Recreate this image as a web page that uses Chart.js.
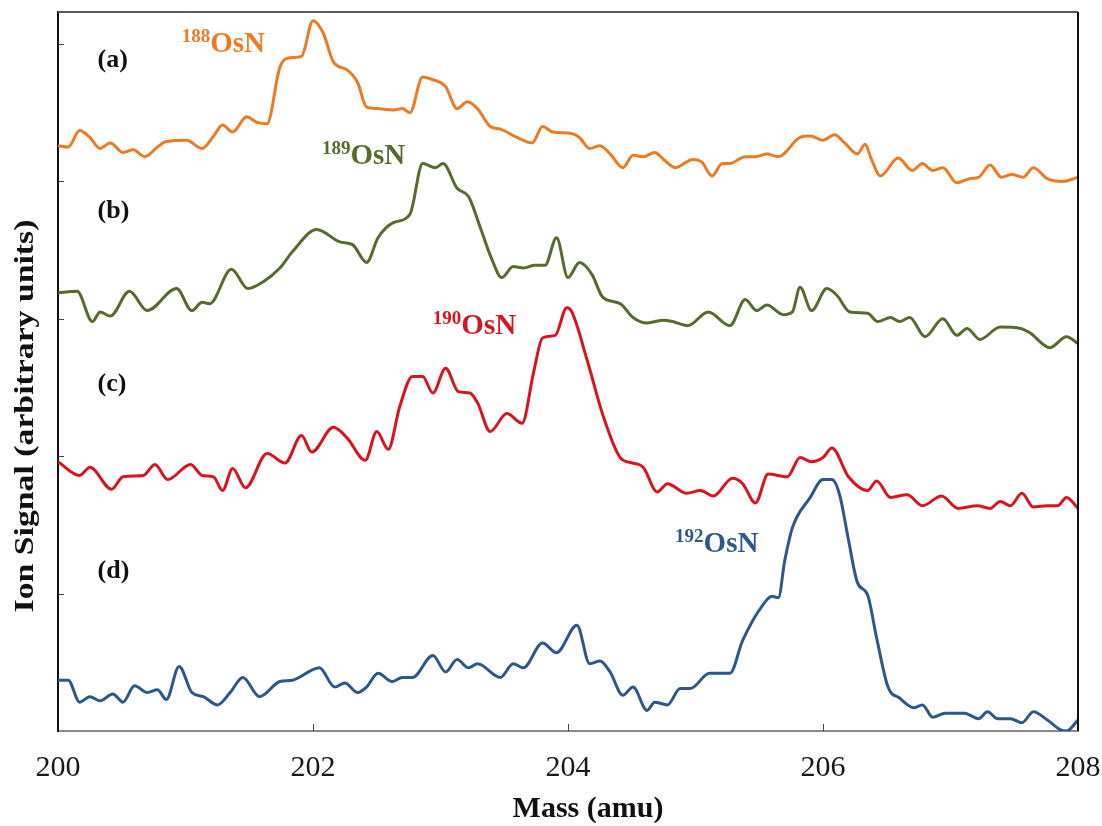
<!DOCTYPE html>
<html>
<head>
<meta charset="utf-8">
<script src="https://cdn.jsdelivr.net/npm/chart.js@4.4.1/dist/chart.umd.min.js"></script>
<style>
  html, body { margin: 0; padding: 0; background: #fff; }
  #wrap { width: 1102px; height: 826px; }
</style>
</head>
<body>
<div id="wrap"><canvas id="spectra"></canvas></div>
<script>
// mass axis (amu) and stacked ion signal traces (arbitrary units, offset per trace)
const massA = [200.00,200.08,200.17,200.25,200.33,200.41,200.51,200.59,200.68,200.78,200.85,201.01,201.13,201.22,201.29,201.37,201.48,201.56,201.64,201.74,201.82,201.91,202.00,202.08,202.16,202.27,202.35,202.42,202.50,202.63,202.70,202.76,202.86,202.94,203.04,203.13,203.21,203.29,203.39,203.47,203.60,203.72,203.80,203.88,204.02,204.09,204.17,204.25,204.33,204.43,204.51,204.59,204.68,204.75,204.84,204.98,205.05,205.13,205.21,205.27,205.39,205.47,205.56,205.65,205.82,205.90,206.00,206.09,206.17,206.27,206.33,206.38,206.45,206.59,206.70,206.78,206.86,206.94,207.05,207.15,207.22,207.31,207.40,207.48,207.57,207.65,207.76,207.88,208.00];
const signalA = [4.26,4.25,4.37,4.32,4.24,4.28,4.21,4.23,4.18,4.25,4.29,4.30,4.24,4.33,4.41,4.36,4.47,4.43,4.42,4.83,4.90,4.91,5.17,5.08,4.87,4.81,4.72,4.54,4.53,4.52,4.53,4.50,4.76,4.74,4.69,4.53,4.58,4.53,4.40,4.38,4.32,4.28,4.40,4.36,4.35,4.32,4.24,4.26,4.20,4.10,4.19,4.18,4.21,4.16,4.10,4.16,4.14,4.04,4.13,4.13,4.18,4.18,4.20,4.18,4.32,4.33,4.30,4.34,4.28,4.20,4.27,4.16,4.04,4.17,4.08,4.13,4.08,4.10,3.99,4.02,4.03,4.12,4.03,4.05,4.03,4.10,4.02,4.00,4.03];

const massB = [200.00,200.15,200.27,200.33,200.41,200.56,200.70,200.93,201.05,201.13,201.19,201.36,201.49,201.61,201.74,201.84,202.03,202.21,202.31,202.42,202.51,202.63,202.76,202.86,202.96,203.02,203.13,203.22,203.31,203.40,203.48,203.57,203.65,203.74,203.82,203.91,204.00,204.09,204.19,204.27,204.41,204.51,204.62,204.75,204.82,204.94,205.10,205.27,205.39,205.48,205.56,205.69,205.76,205.82,205.91,206.03,206.11,206.21,206.35,206.43,206.53,206.60,206.68,206.80,206.94,207.05,207.13,207.23,207.39,207.55,207.62,207.78,207.91,208.00];
const signalB = [3.19,3.20,2.98,3.05,3.02,3.20,3.06,3.22,3.06,3.12,3.11,3.36,3.22,3.27,3.37,3.49,3.65,3.56,3.54,3.41,3.59,3.70,3.76,4.13,4.10,4.13,3.95,3.89,3.67,3.44,3.30,3.38,3.37,3.39,3.39,3.59,3.30,3.41,3.32,3.16,3.11,3.01,2.97,2.99,2.98,2.95,3.05,2.95,3.14,3.06,3.10,3.03,3.05,3.23,3.06,3.22,3.17,3.05,3.04,2.98,3.01,2.98,3.01,2.87,3.00,2.88,2.93,2.85,2.94,2.93,2.90,2.79,2.87,2.82];

const massC = [200.00,200.17,200.25,200.42,200.51,200.67,200.76,200.86,201.04,201.13,201.22,201.29,201.37,201.47,201.64,201.78,201.91,201.99,202.16,202.27,202.41,202.50,202.59,202.68,202.78,202.86,202.94,203.04,203.14,203.23,203.29,203.39,203.52,203.64,203.73,203.80,203.90,203.99,204.03,204.15,204.27,204.41,204.51,204.59,204.70,204.78,204.93,205.04,205.14,205.29,205.37,205.47,205.57,205.72,205.82,205.91,206.00,206.07,206.20,206.35,206.42,206.53,206.66,206.78,206.93,207.06,207.21,207.31,207.39,207.47,207.56,207.65,207.76,207.84,207.91,208.00];
const signalC = [1.96,1.86,1.92,1.76,1.85,1.86,1.94,1.83,1.94,1.86,1.85,1.75,1.91,1.77,2.02,1.95,2.15,2.03,2.21,2.13,1.97,2.18,2.05,2.36,2.58,2.58,2.46,2.64,2.47,2.46,2.39,2.18,2.31,2.24,2.61,2.86,2.88,3.08,3.05,2.70,2.31,1.99,1.95,1.92,1.74,1.80,1.73,1.75,1.71,1.84,1.80,1.66,1.87,1.85,1.99,1.96,1.99,2.06,1.85,1.75,1.82,1.70,1.72,1.64,1.71,1.62,1.64,1.62,1.67,1.64,1.73,1.63,1.64,1.64,1.70,1.62];

const massD = [200.00,200.08,200.17,200.25,200.33,200.43,200.51,200.60,200.70,200.78,200.85,200.95,201.05,201.14,201.25,201.35,201.45,201.58,201.74,201.84,202.05,202.17,202.25,202.35,202.42,202.51,202.62,202.70,202.78,202.94,203.04,203.13,203.22,203.29,203.47,203.57,203.65,203.80,203.91,204.07,204.17,204.25,204.33,204.43,204.51,204.62,204.68,204.78,204.88,204.96,205.11,205.27,205.37,205.53,205.60,205.65,205.70,205.76,205.90,206.00,206.07,206.13,206.20,206.27,206.35,206.42,206.51,206.60,206.71,206.78,206.86,206.96,207.11,207.22,207.29,207.37,207.47,207.56,207.65,207.76,207.86,207.91,208.00];
const signalD = [0.37,0.37,0.21,0.25,0.22,0.27,0.21,0.33,0.28,0.30,0.23,0.47,0.28,0.25,0.19,0.28,0.39,0.25,0.36,0.37,0.46,0.32,0.35,0.28,0.32,0.42,0.36,0.39,0.39,0.55,0.43,0.52,0.46,0.49,0.39,0.49,0.46,0.64,0.57,0.77,0.49,0.51,0.43,0.26,0.32,0.15,0.21,0.19,0.31,0.31,0.42,0.42,0.66,0.92,0.98,0.97,1.24,1.48,1.70,1.83,1.83,1.72,1.39,1.08,0.99,0.68,0.32,0.24,0.17,0.19,0.10,0.13,0.13,0.09,0.14,0.09,0.09,0.06,0.14,0.08,0.01,0.00,0.08];

const massTicks = [200, 202, 204, 206, 208];
const signalTicks = [1, 2, 3, 4, 5];

const traceNames = ['188OsN', '189OsN', '190OsN', '192OsN'];
const traceColors = ['#EE7A24', '#566B30', '#D8141F', '#2D5889'];

const serif = "'Liberation Serif', 'Times New Roman', serif";

function pairs(xs, ys) {
    return xs.map((x, i) => ({ x: x, y: ys[i] }));
}

const traces = [[massA, signalA], [massB, signalB], [massC, signalC], [massD, signalD]];

// panel letters and isotope labels, placed in data coordinates
const panelTags = [
    { text: '(a)', x: 200.31, y: 4.88 },
    { text: '(b)', x: 200.31, y: 3.78 },
    { text: '(c)', x: 200.31, y: 2.52 },
    { text: '(d)', x: 200.31, y: 1.16 }
];
const isoTags = [
    { sup: '188', base: 'OsN', x: 200.97, y: 4.94, color: traceColors[0] },
    { sup: '189', base: 'OsN', x: 202.07, y: 4.13, color: traceColors[1] },
    { sup: '190', base: 'OsN', x: 202.94, y: 2.89, color: traceColors[2] },
    { sup: '192', base: 'OsN', x: 204.84, y: 1.30, color: traceColors[3] }
];

const decorations = {
    id: 'decorations',
    afterDraw(chart) {
        const ctx = chart.ctx;
        const xs = chart.scales.x, ys = chart.scales.y;
        const a = chart.chartArea;
        ctx.save();

        // frame: grey top, black right side
        ctx.lineWidth = 2;
        ctx.strokeStyle = '#5a5a5a';
        ctx.beginPath(); ctx.moveTo(a.left, a.top); ctx.lineTo(a.right, a.top); ctx.stroke();
        ctx.strokeStyle = '#111';
        ctx.beginPath(); ctx.moveTo(a.right, a.top); ctx.lineTo(a.right, a.bottom); ctx.stroke();

        // inward tick marks
        ctx.lineWidth = 1;
        ctx.strokeStyle = '#444';
        signalTicks.forEach(v => {
            const py = Math.round(ys.getPixelForValue(v)) + 0.5;
            ctx.beginPath(); ctx.moveTo(a.left, py); ctx.lineTo(a.left + 6, py); ctx.stroke();
        });
        massTicks.slice(1, -1).forEach(v => {
            const px = Math.round(xs.getPixelForValue(v)) + 0.5;
            ctx.beginPath(); ctx.moveTo(px, a.bottom); ctx.lineTo(px, a.bottom - 7); ctx.stroke();
        });

        // panel letters
        ctx.fillStyle = '#111';
        ctx.font = 'bold 26px ' + serif;
        ctx.textAlign = 'left';
        ctx.textBaseline = 'middle';
        panelTags.forEach(t => {
            ctx.fillText(t.text, xs.getPixelForValue(t.x), ys.getPixelForValue(t.y));
        });

        // isotope labels with superscript mass numbers
        ctx.textBaseline = 'alphabetic';
        isoTags.forEach(t => {
            const px = xs.getPixelForValue(t.x);
            const py = ys.getPixelForValue(t.y);
            ctx.fillStyle = t.color;
            ctx.font = 'bold 19px ' + serif;
            ctx.fillText(t.sup, px, py - 10);
            const w = ctx.measureText(t.sup).width;
            ctx.font = 'bold 29px ' + serif;
            ctx.fillText(t.base, px + w, py);
        });

        // axis titles
        ctx.fillStyle = '#111';
        ctx.font = 'bold 30px ' + serif;
        ctx.textAlign = 'center';
        ctx.textBaseline = 'middle';
        ctx.fillText('Mass (amu)', 588, 809);

        ctx.save();
        ctx.translate(26, 416);
        ctx.rotate(-Math.PI / 2);
        ctx.font = 'bold 27px ' + serif;
        const tw = ctx.measureText('Ion Signal (arbitrary units)').width;
        ctx.scale(393 / tw, 1);
        ctx.fillText('Ion Signal (arbitrary units)', 0, 0);
        ctx.restore();

        ctx.restore();
    }
};

new Chart(document.getElementById('spectra').getContext('2d'), {
    type: 'line',
    data: {
        datasets: traces.map((t, i) => ({
            label: traceNames[i],
            data: pairs(t[0], t[1]),
            borderColor: traceColors[i],
            borderWidth: 3,
            pointRadius: 0,
            fill: false,
            cubicInterpolationMode: 'monotone'
        }))
    },
    options: {
        responsive: true,
        maintainAspectRatio: false,
        animation: false,
        layout: { padding: { left: 0, right: 24, top: 12, bottom: 0 } },
        plugins: {
            legend: { display: false },
            tooltip: { enabled: false }
        },
        scales: {
            x: {
                type: 'linear',
                min: 200,
                max: 208,
                afterFit: s => { s.height = 95; s.paddingLeft = 0; s.paddingRight = 0; },
                afterBuildTicks: s => { s.ticks = massTicks.map(v => ({ value: v })); },
                grid: { display: false },
                border: { display: true, color: '#8a8a8a', width: 2 },
                ticks: {
                    color: '#1a1a1a',
                    font: { family: serif, size: 30 },
                    padding: 11,
                    maxRotation: 0
                }
            },
            y: {
                type: 'linear',
                min: 0,
                max: 5.233,
                afterFit: s => { s.width = 58; },
                grid: { display: false },
                border: { display: true, color: '#111', width: 2 },
                ticks: { display: false }
            }
        }
    },
    plugins: [decorations]
});
</script>
</body>
</html>
